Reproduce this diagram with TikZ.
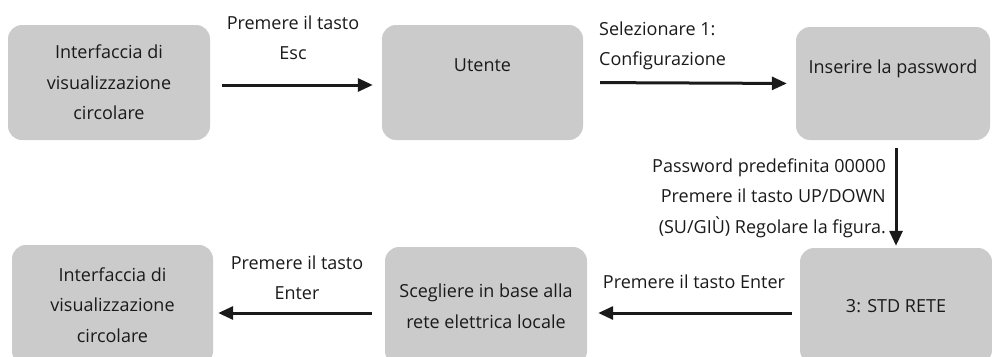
\documentclass[tikz,border=0pt]{standalone}
\usepackage{fontspec}
\setmainfont{Open Sans}
\usetikzlibrary{arrows.meta}
\definecolor{boxgray}{HTML}{CBCBCB}
\definecolor{ink}{HTML}{1A1A1A}
\tikzset{
  every node/.style={font=\fontsize{18}{30.5}\selectfont, text=ink, inner sep=0pt},
  stepbox/.style={rectangle, rounded corners=14pt, fill=boxgray, align=center},
  arr/.style={draw=ink, line width=3pt, -{Triangle[length=15pt,width=13pt]}},
  lbl/.style={align=center}
}
\begin{document}
\begin{tikzpicture}[x=1pt,y=-1pt]
\useasboundingbox (0,0) rectangle (992,356);
\clip (0,0) rectangle (992,356);
% boxes
\node[stepbox, minimum width=202pt, minimum height=115pt] (b1) at (109,82.5) {Interfaccia di\\visualizzazione\\circolare};
\node[stepbox, minimum width=201pt, minimum height=115pt] (b2) at (482.5,82.5) {Utente\\[4pt]};
\node[stepbox, minimum width=194pt, minimum height=113pt] (b3) at (893,83.5) {Inserire la password\\[4pt]};
\node[stepbox, minimum width=192pt, minimum height=116pt] (b4) at (896,306) {3: STD RETE};
\node[stepbox, minimum width=202pt, minimum height=118pt] (b5) at (486,306) {Scegliere in base alla\\rete elettrica locale};
\node[stepbox, minimum width=201pt, minimum height=120pt] (b6) at (112.5,305) {Interfaccia di\\visualizzazione\\circolare};
% connectors
\draw[arr, shorten <=12pt, shorten >=9pt] ([yshift=-2.5pt]b1.east) -- ([yshift=-2.5pt]b2.west);
\draw[arr, shorten <=17pt, shorten >=9pt] (b2.east) -- (b3.west);
\draw[arr, shorten <=8pt, shorten >=2pt] (b4.north |- b3.south) -- (b4.north);
\draw[arr, shorten <=8pt, shorten >=11pt] ([yshift=-7pt]b4.west) -- ([yshift=-7pt]b5.east);
\draw[arr, shorten <=13pt, shorten >=5pt] ([yshift=-7pt]b5.west) -- ([yshift=-8pt]b6.east);
% labels
\node[lbl] (l1) at (293,37.5) {Premere il tasto\\Esc};
\node[align=left, anchor=west] (l2) at (599,46) {Selezionare 1:\\Configurazione};
\node[align=right, anchor=east] (l3) at (886,198) {Password predefinita 00000\\Premere il tasto UP/DOWN\\(SU/GIÙ) Regolare la figura.};
\node[lbl] (l4) at (694,282) {Premere il tasto Enter};
\node[lbl] (l5) at (297,277.5) {Premere il tasto\\Enter};
\end{tikzpicture}
\end{document}
